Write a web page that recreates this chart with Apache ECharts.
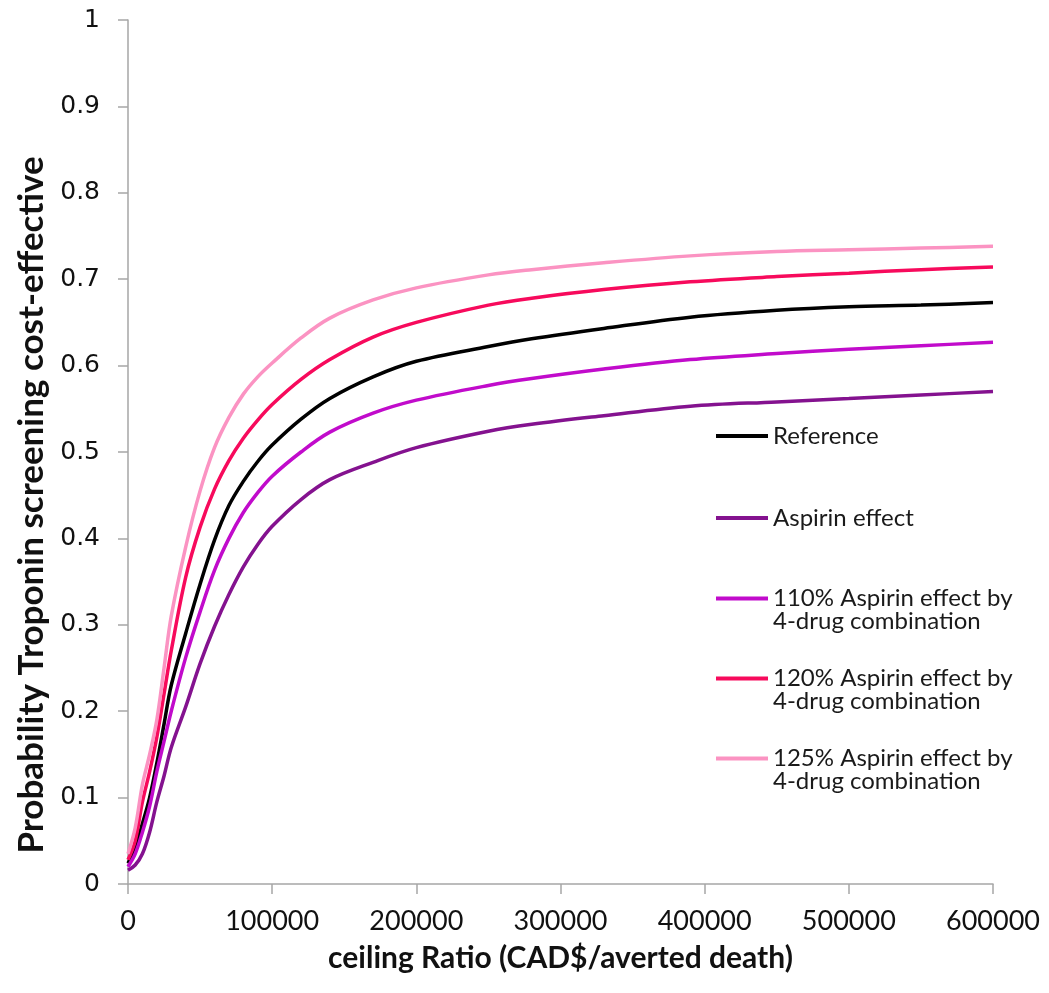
<!DOCTYPE html>
<html>
<head>
<meta charset="utf-8">
<script src="https://cdn.jsdelivr.net/npm/echarts@6/dist/echarts.min.js"></script>
<style>
  html, body { margin: 0; padding: 0; background: #fff; }
  #chart { width: 1049px; height: 993px; }
</style>
</head>
<body>
<div id="chart"></div>
<script>
// ceiling ratio values (CAD$/averted death)
const ceilingRatios = [0, 5000, 10000, 15000, 20000, 25000, 30000, 40000, 50000, 60000, 70000, 80000, 90000,
  100000, 120000, 140000, 170000, 200000, 250000, 280000, 330000, 390000, 450000, 500000, 550000, 600000];

const seriesNames = [
  'Reference',
  'Aspirin effect',
  '110% Aspirin effect by\n4-drug combination',
  '120% Aspirin effect by\n4-drug combination',
  '125% Aspirin effect by\n4-drug combination'
];

// probability troponin screening is cost-effective
const referenceValues = [0.024, 0.042, 0.07, 0.1, 0.14, 0.185, 0.23, 0.29, 0.347, 0.398, 0.438, 0.466, 0.489,
  0.508, 0.538, 0.562, 0.587, 0.605, 0.622, 0.631, 0.643, 0.656, 0.664, 0.668, 0.67, 0.673];
const aspirinValues = [0.016, 0.022, 0.035, 0.06, 0.095, 0.125, 0.158, 0.205, 0.255, 0.298, 0.335, 0.367, 0.393,
  0.414, 0.445, 0.468, 0.488, 0.505, 0.524, 0.532, 0.542, 0.553, 0.558, 0.562, 0.566, 0.57];
const aspirin110Values = [0.02, 0.035, 0.06, 0.09, 0.13, 0.165, 0.2, 0.262, 0.315, 0.363, 0.4, 0.43, 0.453,
  0.472, 0.5, 0.523, 0.545, 0.56, 0.577, 0.585, 0.596, 0.607, 0.614, 0.619, 0.623, 0.627];
const aspirin120Values = [0.028, 0.05, 0.095, 0.13, 0.17, 0.22, 0.27, 0.355, 0.413, 0.457, 0.49, 0.516, 0.537,
  0.555, 0.584, 0.607, 0.633, 0.65, 0.67, 0.678, 0.688, 0.697, 0.703, 0.707, 0.711, 0.714];
const aspirin125Values = [0.035, 0.065, 0.115, 0.15, 0.19, 0.25, 0.31, 0.39, 0.455, 0.505, 0.54, 0.567, 0.587,
  0.603, 0.632, 0.655, 0.676, 0.69, 0.705, 0.711, 0.719, 0.727, 0.732, 0.734, 0.736, 0.738];

const xTicks = [0, 100000, 200000, 300000, 400000, 500000, 600000];
const yTicks = [0, 0.1, 0.2, 0.3, 0.4, 0.5, 0.6, 0.7, 0.8, 0.9, 1];

const valueSets = [referenceValues, aspirinValues, aspirin110Values, aspirin120Values, aspirin125Values];
const colors = ['#000000', '#84128f', '#c10bcb', '#f70a5c', '#fb93c2'];

const axisGray = '#a6a6a6';
const chart = echarts.init(document.getElementById('chart'));

// bar on top, invisible point underneath so the line sits on the first text row
const twoLineIcon = 'path://M0,0H52V4H0Z M0,26L0.01,26';
const legendTops = [424, 506, 586, 666, 746];

const option = {
  animation: false,
  color: colors,
  grid: { left: 128, right: 56, top: 20, bottom: 109, containLabel: false },
  legend: seriesNames.map((name, i) => ({
    left: 716,
    top: legendTops[i],
    padding: 0,
    data: [name],
    icon: i < 2 ? 'rect' : twoLineIcon,
    itemWidth: 52,
    itemHeight: i < 2 ? 4 : 26,
    selectedMode: false,
    textStyle: {
      fontFamily: 'Lato, sans-serif',
      fontSize: 24,
      lineHeight: 23,
      color: '#1a1a1a'
    }
  })),
  xAxis: {
    type: 'value',
    min: xTicks[0],
    max: xTicks[xTicks.length - 1],
    interval: 100000,
    name: 'ceiling Ratio (CAD$/averted death)',
    nameLocation: 'middle',
    nameGap: 59,
    nameTextStyle: { fontFamily: 'Lato, sans-serif', fontWeight: 'bold', fontSize: 30, color: '#111' },
    axisLine: { lineStyle: { color: axisGray, width: 1.5 } },
    axisTick: { show: true, length: 10, lineStyle: { color: axisGray, width: 1.5 } },
    axisLabel: {
      margin: 24,
      fontFamily: 'Lato, sans-serif',
      fontSize: 27,
      color: '#111',
      formatter: v => String(v)
    },
    splitLine: { show: false }
  },
  yAxis: {
    type: 'value',
    min: yTicks[0],
    max: yTicks[yTicks.length - 1],
    interval: 0.1,
    name: 'Probability Troponin screening cost-effective',
    nameLocation: 'middle',
    nameGap: 78,
    nameRotate: 90,
    nameTextStyle: {
      fontFamily: 'Lato, sans-serif', fontWeight: 'bold', fontSize: 35, color: '#111',
      padding: [0, 106, 0, 0]
    },
    axisLine: { show: true, lineStyle: { color: axisGray, width: 1.5 } },
    axisTick: { show: true, length: 10, lineStyle: { color: axisGray, width: 1.5 } },
    axisLabel: {
      margin: 28,
      fontFamily: "'DejaVu Sans', Verdana, sans-serif",
      fontSize: 25,
      color: '#111',
      formatter: v => String(+v.toFixed(1))
    },
    splitLine: { show: false }
  },
  series: seriesNames.map((name, i) => ({
    name,
    type: 'line',
    showSymbol: false,
    smooth: 0.35,
    data: ceilingRatios.map((x, j) => [x, valueSets[i][j]]),
    lineStyle: { width: 3.5, color: colors[i] },
    itemStyle: { color: colors[i] }
  }))
};

chart.setOption(option);
</script>
</body>
</html>
